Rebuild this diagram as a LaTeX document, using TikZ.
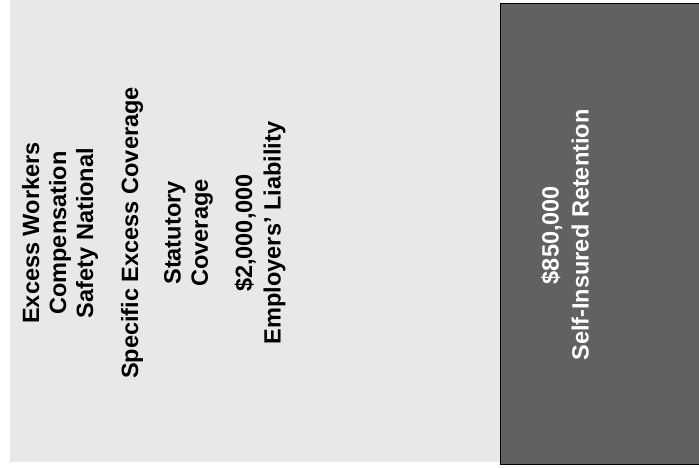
\documentclass[tikz,border=0pt]{standalone}
\usepackage{fontspec}
\setmainfont{Liberation Sans}
\usepackage{xcolor}
\usetikzlibrary{positioning}

\begin{document}
\begin{tikzpicture}[font=\bfseries\fontsize{13.4}{15.4}\selectfont, line width=0.5pt,
    layer/.style={rotate=90, align=center, inner sep=0pt}]
  \useasboundingbox (0,0) rectangle (13.98,9.34);
  % light field: the insured layers above the retention
  \fill[black!9] (0.2,0.1) rectangle (10.0,9.34);
  % dark block: the retention
  \draw[fill=black!62] (10.0,0.06) rectangle (13.98,9.28);
  \node[layer] (excess) at (1.2,4.68) {Excess Workers\\Compensation\\Safety National};
  \node[layer] (specific) at (2.64,4.68) {Specific Excess Coverage};
  \node[layer] (statutory) at (3.77,4.68) {Statutory\\Coverage};
  \node[layer, font=\bfseries\fontsize{13.4}{16.2}\selectfont] (liability) at (5.2,4.68) {\$2,000,000\\Employers' Liability};
  \node[layer, text=white, font=\bfseries\fontsize{13.4}{17}\selectfont] (retention) at (11.3,4.64) {\$850,000\\Self-Insured Retention};
\end{tikzpicture}
\end{document}
